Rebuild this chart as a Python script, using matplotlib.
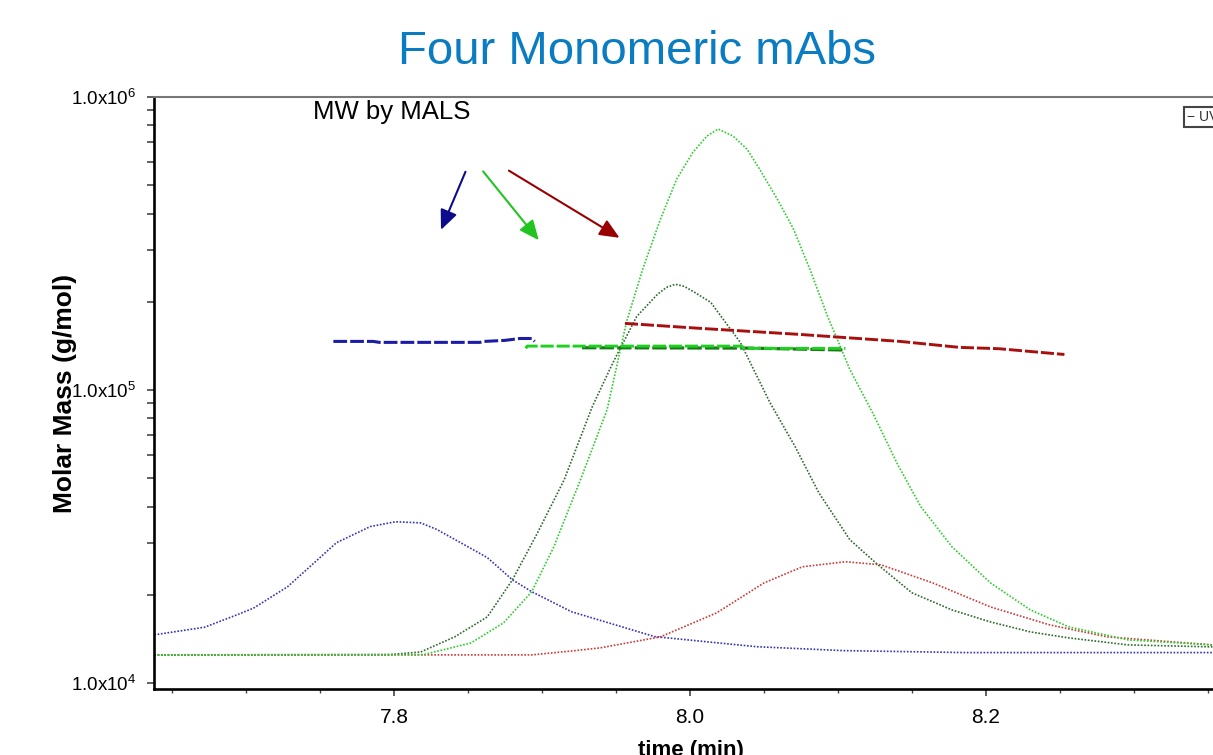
import matplotlib
matplotlib.use("Agg")
import math
import matplotlib.pyplot as plt
from matplotlib.ticker import FixedLocator, LogLocator, NullFormatter, FuncFormatter

# concentration traces (dotted), time in min, molar mass in g/mol
blue_t = [7.638, 7.672, 7.694, 7.705, 7.728, 7.746, 7.761, 7.784, 7.801, 7.818, 7.829,
          7.863, 7.880, 7.893, 7.920, 7.976, 8.045, 8.103, 8.185, 8.353]
blue_m = [14600, 15500, 17100, 18000, 21300, 25700, 30100, 34200, 35500, 35200, 33400,
          26800, 22500, 20500, 17500, 14400, 13300, 12900, 12700, 12700]

dkgreen_t = [7.638, 7.797, 7.818, 7.841, 7.863, 7.880, 7.897, 7.915, 7.934, 7.948, 7.964,
             7.978, 7.984, 7.990, 7.996, 8.002, 8.014, 8.034, 8.054, 8.071, 8.087, 8.108,
             8.127, 8.150, 8.177, 8.203, 8.230, 8.256, 8.296, 8.353]
dkgreen_m = [12470, 12500, 12760, 14370, 16810, 22490, 32570, 49430, 87840, 124200, 178300,
             212100, 223900, 229500, 225900, 217200, 199100, 145300, 90620, 64120, 44630, 30830,
             25320, 20310, 17760, 16160, 14940, 14250, 13490, 13280]

ltgreen_t = [7.638, 7.820, 7.852, 7.874, 7.893, 7.908, 7.926, 7.944, 7.957, 7.968, 7.980,
             7.991, 8.002, 8.0115, 8.019, 8.029, 8.0385, 8.047, 8.059, 8.070, 8.081, 8.093,
             8.108, 8.124, 8.140, 8.156, 8.177, 8.203, 8.230, 8.256, 8.296, 8.353]
ltgreen_m = [12470, 12500, 13700, 16040, 20470, 29170, 49430, 85760, 170100, 258200, 382700,
             524500, 648000, 736000, 777300, 736000, 664000, 567500, 448000, 353700, 258200, 178300,
             117500, 82480, 56080, 39970, 29170, 21960, 17760, 15540, 14030, 13490]

red_t = [7.638, 7.893, 7.920, 7.939, 7.980, 8.018, 8.050, 8.076, 8.105, 8.129, 8.164,
         8.203, 8.243, 8.282, 8.353]
red_m = [12470, 12470, 12860, 13170, 14370, 17350, 21960, 24930, 25930, 25320, 21960,
         18180, 15790, 14370, 13490]

# MW by MALS (dashed)
mw_blue_t = [7.759, 7.786, 7.790, 7.858, 7.861, 7.875, 7.885, 7.893, 7.895]
mw_blue_m = [146500, 146500, 145400, 145400, 146500, 147700, 149900, 149900, 146500]

mw_dkgreen_t = [7.927, 8.040, 8.105]
mw_dkgreen_m = [139400, 139000, 136900]

mw_ltgreen_t = [7.889, 7.890, 8.035, 8.036, 8.105]
mw_ltgreen_m = [138700, 141200, 141200, 138700, 138700]

mw_red_t = [7.956, 8.007, 8.074, 8.142, 8.182, 8.209, 8.253]
mw_red_m = [168800, 162300, 154800, 146500, 139800, 138300, 132200]

# arrows: (tail time, tail mass, head time, head mass, colour)
arrows = [
    (7.849, 567000, 7.831, 345000, '#0c0c8c'),
    (7.859, 567000, 7.899, 319000, '#22c422'),
    (7.876, 567000, 7.954, 327000, '#990000'),
]

xticks = [7.8, 8.0, 8.2]


def ylab(v, pos):
    e = int(round(math.log10(v)))
    return r'$\mathregular{1.0x10^{%d}}$' % e


def main():
    fig = plt.figure(figsize=(12.13, 7.55), dpi=100)
    ax = fig.add_axes([0.12696, 0.08742, 0.87304, 0.78410])

    dot = (0, (1, 1))
    ax.plot(blue_t, blue_m, color='#3535b5', lw=1.2, ls=dot)
    ax.plot(red_t, red_m, color='#cc3a3a', lw=1.2, ls=dot)
    ax.plot(dkgreen_t, dkgreen_m, color='#2d6a2d', lw=1.2, ls=dot)
    ax.plot(ltgreen_t, ltgreen_m, color='#2ecc2e', lw=1.2, ls=dot)

    dash = (0, (4.5, 1.0))
    ax.plot(mw_blue_t, mw_blue_m, color='#1c1ca8', lw=2.2, ls=dash)
    ax.plot(mw_dkgreen_t, mw_dkgreen_m, color='#1a7a1a', lw=2.3, ls=dash)
    ax.plot(mw_ltgreen_t, mw_ltgreen_m, color='#20d020', lw=2.1, ls=dash)
    ax.plot(mw_red_t, mw_red_m, color='#a81010', lw=2.1, ls=dash)

    for t0, m0, t1, m1, c in arrows:
        ax.annotate('', xy=(t1, m1), xytext=(t0, m0),
                    arrowprops=dict(arrowstyle='-|>,head_length=0.8,head_width=0.35',
                                    color=c, lw=1.5, mutation_scale=15))

    ax.set_yscale('log')
    ax.set_xlim(7.6378, 8.3534)
    ax.set_ylim(9539, 1.0e6)

    ax.xaxis.set_major_locator(FixedLocator(xticks))
    ax.xaxis.set_minor_locator(FixedLocator([7.65 + 0.05 * i for i in range(15)]))
    ax.yaxis.set_major_locator(LogLocator(base=10, numticks=5))
    ax.yaxis.set_minor_locator(LogLocator(base=10, subs=range(2, 10), numticks=20))
    ax.yaxis.set_major_formatter(FuncFormatter(ylab))
    ax.yaxis.set_minor_formatter(NullFormatter())
    ax.xaxis.set_major_formatter(FuncFormatter(lambda v, p: '%.1f' % v))

    ax.tick_params(axis='x', which='major', length=5, width=1.2, pad=9,
                   labelsize=15, color='#444444')
    ax.tick_params(axis='x', which='minor', length=3, width=1.0, color='#444444')
    ax.tick_params(axis='y', which='both', length=5, width=1.3, pad=8,
                   labelsize=13.5, color='#555555')
    for lab in ax.get_xticklabels() + ax.get_yticklabels():
        lab.set_family('Liberation Sans')

    for s in ['left', 'bottom']:
        ax.spines[s].set_linewidth(1.9)
        ax.spines[s].set_color('black')
    ax.spines['top'].set_linewidth(1.5)
    ax.spines['top'].set_color('#777777')
    ax.spines['right'].set_visible(False)

    ax.set_ylabel('Molar Mass (g/mol)', fontsize=19, fontweight='bold',
                  family='Liberation Sans')
    ax.yaxis.set_label_coords(-0.073, 0.5)

    fig.text(691 / 1213, 1 - 740 / 755, 'time (min)', ha='center', va='top',
             fontsize=16, fontweight='bold', family='Liberation Sans')
    fig.text(637 / 1213, 1 - 52 / 755, 'Four Monomeric mAbs', ha='center', va='center',
             fontsize=34, color='#0a7cc2', family='Liberation Sans')
    fig.text(313 / 1213, 1 - 112 / 755, 'MW by MALS', ha='left', va='center',
             fontsize=18.5, color='black', family='Liberation Sans')
    fig.text(1187 / 1213, 1 - 117 / 755, '\u2212 UV', ha='left', va='center',
             fontsize=10, color='#333333', family='Liberation Sans',
             bbox=dict(boxstyle='square,pad=0.25', fc='white', ec='#444444', lw=1.5))

    fig.savefig('out.png', dpi=100)


if __name__ == '__main__':
    main()
